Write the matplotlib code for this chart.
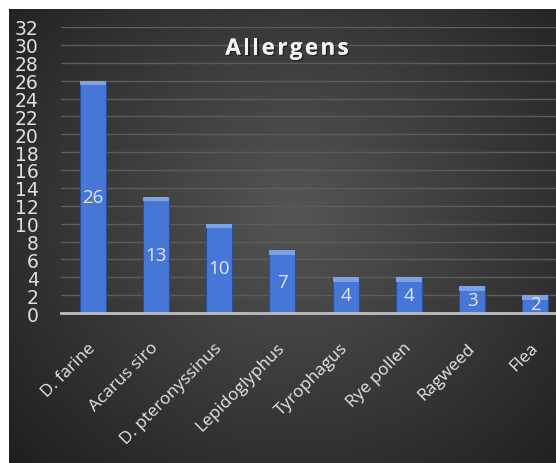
import numpy as np
import matplotlib
matplotlib.use("Agg")
import matplotlib.pyplot as plt
from matplotlib import font_manager as fm
import matplotlib.patheffects as pe

categories = ["D. farine", "Acarus siro", "D. pteronyssinus", "Lepidoglyphus",
              "Tyrophagus", "Rye pollen", "Ragweed", "Flea"]
values = [26, 13, 10, 7, 4, 4, 3, 2]
yticks = list(range(0, 33, 2))
title = "Allergens"

avail = {f.name for f in fm.fontManager.ttflist}
narrow = "Liberation Sans Narrow" if "Liberation Sans Narrow" in avail else "DejaVu Sans"
sans = "Open Sans" if "Open Sans" in avail else "DejaVu Sans"

W, H = 556, 464
fig = plt.figure(figsize=(W / 100, H / 100), dpi=100, facecolor="white")

# dark radial-gradient background panel
bg = fig.add_axes([9 / W, 0, (W - 9) / W, (H - 10) / H], zorder=0)
bg.set_axis_off()
yy, xx = np.mgrid[0:1:300j, 0:1:300j]
r = np.sqrt(((xx - 0.52) / 0.75) ** 2 + ((yy - 0.45) / 0.85) ** 2)
r = np.clip(r, 0, 1)
c0 = np.array([0x55, 0x55, 0x55]) / 255
c1 = np.array([0x1c, 0x1c, 0x1c]) / 255
img = c0[None, None, :] * (1 - r[..., None]) + c1[None, None, :] * r[..., None]
bg.imshow(img, aspect="auto", extent=[0, 1, 0, 1], origin="upper")

ax = fig.add_axes([61 / W, 150 / H, (567 - 61) / W, (436 - 150) / H], zorder=1)
ax.patch.set_alpha(0)
x = np.arange(len(categories))
ax.bar(x, values, width=0.41, color="#4677d6", edgecolor="#2c4f9a",
       linewidth=0.8, zorder=3)
# lighter bevel on top of each bar
ax.bar(x, [0.5] * len(values), bottom=np.array(values) - 0.5, width=0.41,
       color="#7aa2ea", linewidth=0, zorder=4)

for xi, v in zip(x, values):
    ax.text(xi, v / 2, str(v), ha="center", va="center", color="#e6e6e6",
            fontsize=13.5, family=sans, zorder=5)

ax.set_xlim(-0.5, len(categories) - 0.5)
ax.set_ylim(0, 32)
ax.set_yticks(yticks)
ax.set_yticklabels([str(t) for t in yticks], family=narrow, fontsize=13.5,
                   color="#e0e0e0")
ax.tick_params(axis="y", length=0, pad=16)
ax.set_xticks(x)
ax.set_xticklabels(categories, rotation=45, ha="right", va="center",
                   rotation_mode="anchor", family=sans, fontsize=12.5,
                   color="#e6e6e6")
ax.tick_params(axis="x", length=0, pad=23)
ax.grid(axis="y", color="#5c5c5c", linewidth=1.0, zorder=1)
for s in ["top", "right", "left"]:
    ax.spines[s].set_visible(False)
ax.spines["bottom"].set_color("#bfbfbf")
ax.spines["bottom"].set_linewidth(2)
ax.spines["bottom"].set_zorder(6)

# title with letter spacing, drawn letter by letter
fig.canvas.draw()
renderer = fig.canvas.get_renderer()
spacing = 2.4  # px between letters
props = dict(fontsize=16, fontweight="bold", color="#f2f2f2", family=sans,
             path_effects=[pe.withSimplePatchShadow(offset=(1, -1),
                                                    shadow_rgbFace="#111111",
                                                    alpha=0.6), pe.Normal()])
widths = []
for ch in title:
    t = fig.text(0, 0, ch, **props)
    widths.append(t.get_window_extent(renderer).width)
    t.remove()
total = sum(widths) + spacing * (len(title) - 1)
xpos = 287 - total / 2
for ch, w in zip(title, widths):
    fig.text(xpos / W, 1 - 50 / H, ch, ha="left", va="center", **props)
    xpos += w + spacing

fig.savefig("out.png", dpi=100, facecolor="white")
